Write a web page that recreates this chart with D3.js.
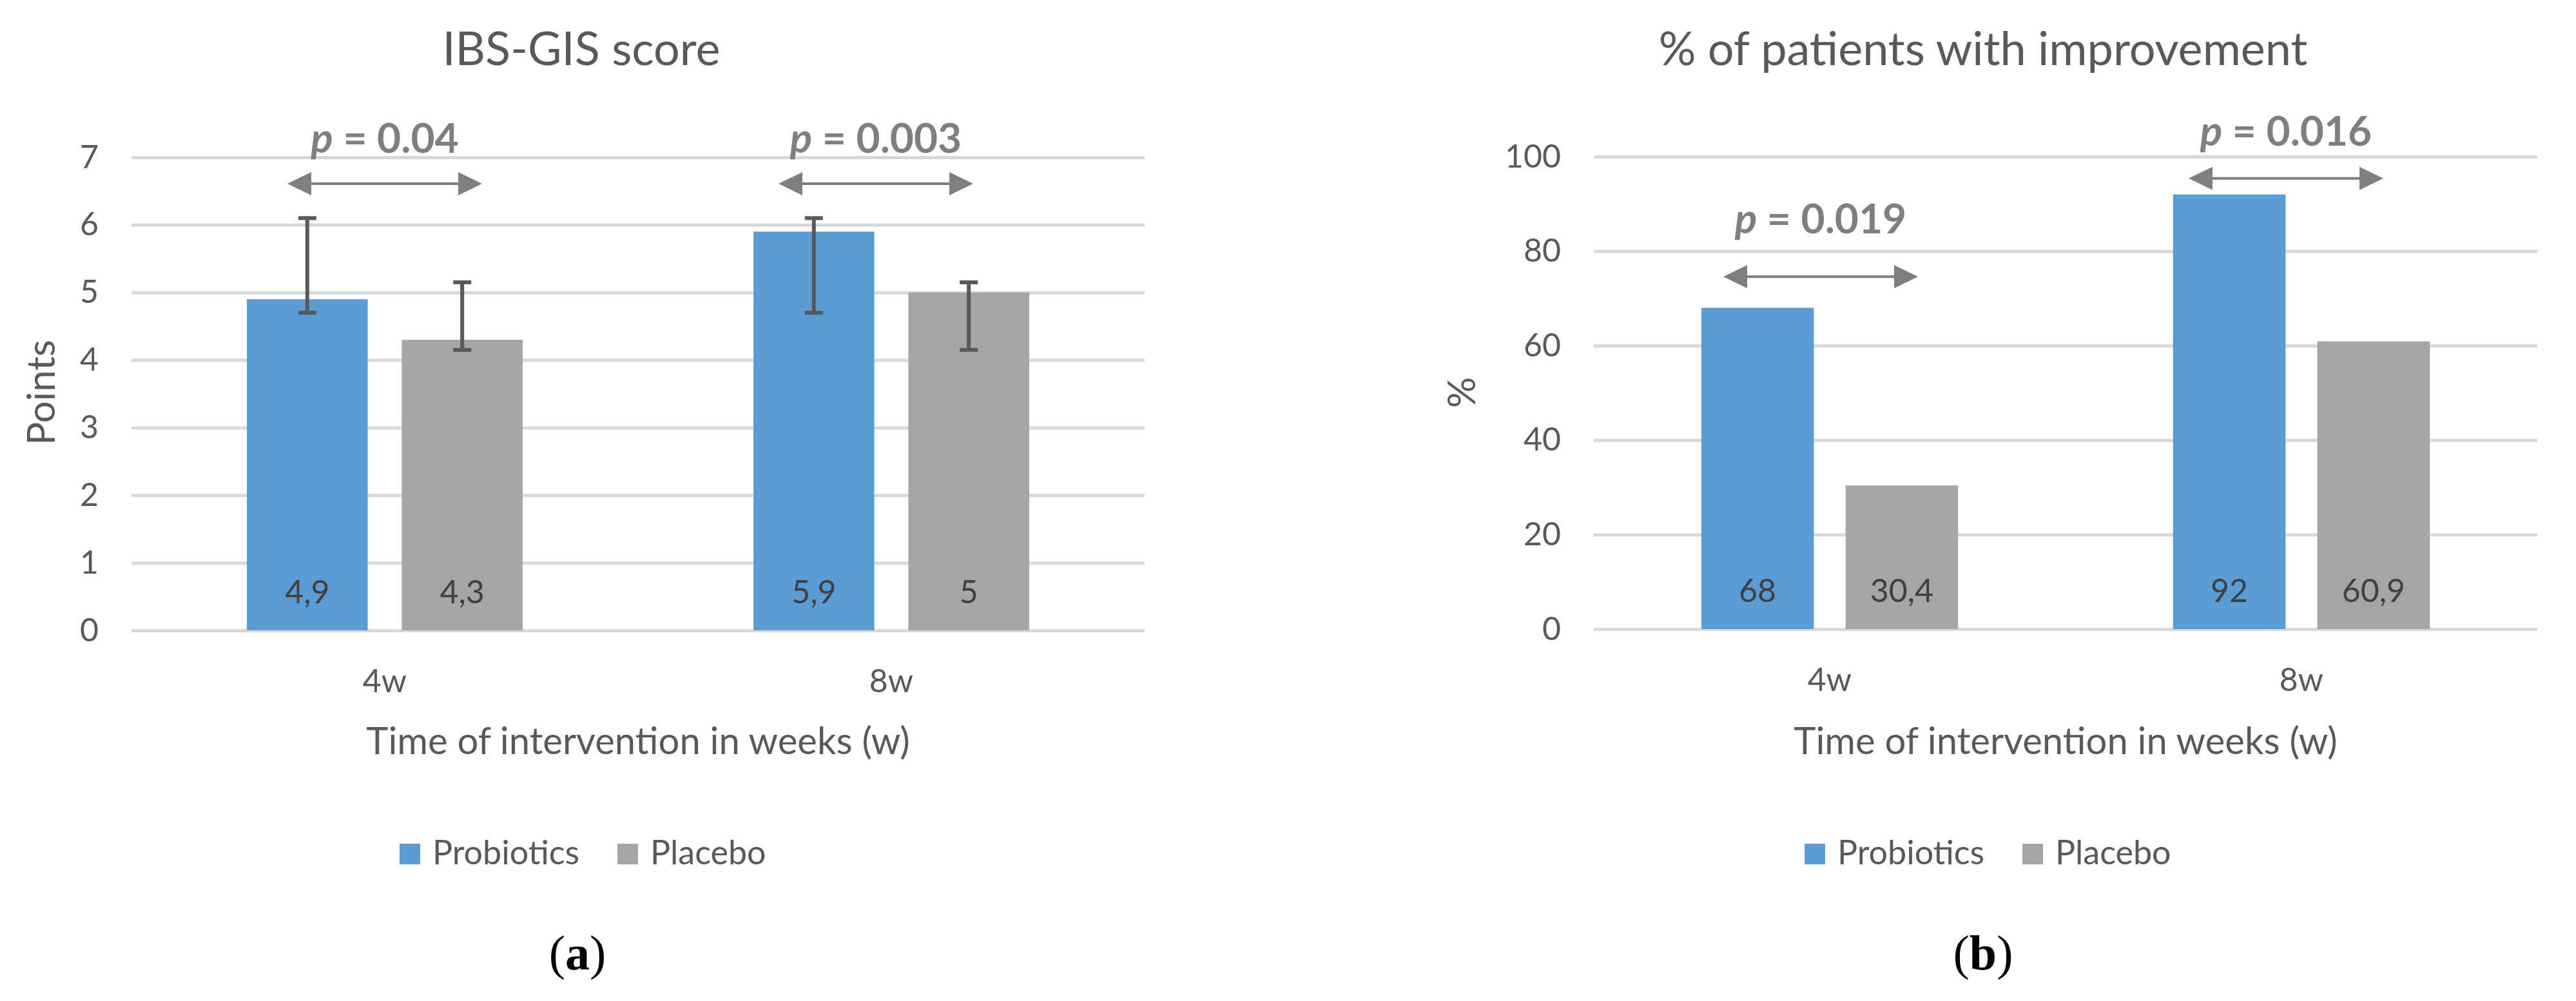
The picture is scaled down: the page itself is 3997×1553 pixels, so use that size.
<!DOCTYPE html>
<html>
<head>
<meta charset="utf-8">
<script src="https://d3js.org/d3.v7.min.js"></script>
<style>
  body { margin: 0; background: #fff; }
  text { font-family: Lato, "Open Sans", sans-serif; }
</style>
</head>
<body>
<script>
// shared
var categories = ["4w", "8w"];
var series = ["Probiotics", "Placebo"];
var seriesColors = ["#5b9bd5", "#a5a5a5"];

// (a) IBS-GIS score
var scoreTicks = [0, 1, 2, 3, 4, 5, 6, 7];
var scoreProbiotics = [4.9, 5.9];
var scorePlacebo = [4.3, 5.0];
var scoreErrProbiotics = [[4.7, 6.1], [4.7, 6.1]];
var scoreErrPlacebo = [[4.15, 5.15], [4.15, 5.15]];
var scorePValues = ["0.04", "0.003"];

// (b) % of patients with improvement
var improveTicks = [0, 20, 40, 60, 80, 100];
var improveProbiotics = [68, 92];
var improvePlacebo = [30.4, 60.9];
var improvePValues = ["0.019", "0.016"];

var W = 3997, H = 1553;
var grey = "#595959";

var svg = d3.select("body")
            .append("svg")
            .attr("width", W)
            .attr("height", H)
            .style("background", "#fff");

function comma(v) { return String(v).replace(".", ","); }

function drawPanel(cfg) {
  var g = svg.append("g");

  var x = d3.scaleBand()
            .domain(categories)
            .range([cfg.left, cfg.right]);

  var xs = d3.scaleBand()
             .domain(series)
             .range([0, x.bandwidth()])
             .paddingInner(0.22)
             .paddingOuter(0.745);

  var y = d3.scaleLinear()
            .domain([0, cfg.yMax])
            .range([cfg.bottom, cfg.top]);

  // title
  g.append("text")
    .attr("x", cfg.titleX)
    .attr("y", 101)
    .attr("text-anchor", "middle")
    .attr("fill", grey)
    .style("font-size", "72px")
    .text(cfg.title);

  // gridlines
  var grid = g.append("g")
    .attr("transform", "translate(" + cfg.left + ",0)")
    .call(d3.axisLeft(y).tickValues(cfg.ticks).tickSize(-(cfg.right - cfg.left)).tickFormat(""));
  grid.select(".domain").remove();
  grid.selectAll("line").attr("stroke", "#d9d9d9").attr("stroke-width", 5);

  // y tick labels
  var ya = g.append("g")
    .attr("transform", "translate(" + cfg.left + ",0)")
    .call(d3.axisLeft(y).tickValues(cfg.ticks).tickFormat(d3.format("d")).tickSize(0).tickPadding(51));
  ya.select(".domain").remove();
  ya.selectAll("text")
    .attr("fill", grey)
    .style("font-size", "50px")
    .style("font-family", "Lato, sans-serif");

  // y axis title
  g.append("text")
    .attr("transform", "translate(" + cfg.yLabelX + ",609) rotate(-90)")
    .attr("text-anchor", "middle")
    .attr("dy", "0.35em")
    .attr("fill", grey)
    .style("font-size", "60px")
    .text(cfg.yLabel);

  // bars
  var rows = [];
  categories.forEach(function(c, i) {
    series.forEach(function(s, j) {
      rows.push({cat: c, ser: s, idx: j, value: cfg.values[j][i],
                 err: cfg.errors ? cfg.errors[j][i] : null});
    });
  });

  g.selectAll(".bar")
    .data(rows)
    .enter()
    .append("rect")
    .attr("x", function(d) { return x(d.cat) + xs(d.ser); })
    .attr("y", function(d) { return y(d.value); })
    .attr("width", xs.bandwidth())
    .attr("height", function(d) { return y(0) - y(d.value); })
    .attr("fill", function(d) { return seriesColors[d.idx]; });

  // value labels inside bars
  g.selectAll(".vlab")
    .data(rows)
    .enter()
    .append("text")
    .attr("x", function(d) { return x(d.cat) + xs(d.ser) + xs.bandwidth() / 2; })
    .attr("y", y(0) - 42)
    .attr("text-anchor", "middle")
    .attr("fill", "#404040")
    .style("font-size", "50px")
    .text(function(d) { return comma(d.value); });

  // error bars
  if (cfg.errors) {
    var eb = g.selectAll(".err")
      .data(rows)
      .enter()
      .append("g")
      .attr("stroke", grey)
      .attr("stroke-width", 6);
    eb.append("line")
      .attr("x1", function(d) { return x(d.cat) + xs(d.ser) + xs.bandwidth() / 2; })
      .attr("x2", function(d) { return x(d.cat) + xs(d.ser) + xs.bandwidth() / 2; })
      .attr("y1", function(d) { return y(d.err[0]); })
      .attr("y2", function(d) { return y(d.err[1]); });
    [0, 1].forEach(function(k) {
      eb.append("line")
        .attr("x1", function(d) { return x(d.cat) + xs(d.ser) + xs.bandwidth() / 2 - 14; })
        .attr("x2", function(d) { return x(d.cat) + xs(d.ser) + xs.bandwidth() / 2 + 14; })
        .attr("y1", function(d) { return y(d.err[k]); })
        .attr("y2", function(d) { return y(d.err[k]); });
    });
  }

  // category labels
  var xa = g.append("g")
    .attr("transform", "translate(0," + cfg.bottom + ")")
    .call(d3.axisBottom(x).tickSize(0).tickPadding(60));
  xa.select(".domain").remove();
  xa.selectAll("text")
    .attr("fill", grey)
    .style("font-size", "50px")
    .style("font-family", "Lato, sans-serif");

  // x axis title
  g.append("text")
    .attr("x", (cfg.left + cfg.right) / 2)
    .attr("y", 1170)
    .attr("text-anchor", "middle")
    .attr("fill", grey)
    .style("font-size", "58px")
    .text("Time of intervention in weeks (w)");

  // p-value arrows
  categories.forEach(function(c, i) {
    var cx = x(c) + x.bandwidth() / 2 + cfg.arrowShift[i];
    var ay = y(cfg.arrowAt[i]);
    var x1 = cx - 151, x2 = cx + 151;
    g.append("line")
      .attr("x1", x1 + 30).attr("x2", x2 - 30)
      .attr("y1", ay).attr("y2", ay)
      .attr("stroke", "#7f7f7f")
      .attr("stroke-width", 4);
    g.append("path")
      .attr("d", "M" + x1 + "," + ay + "L" + (x1 + 37) + "," + (ay - 18) + "L" + (x1 + 37) + "," + (ay + 18) + "Z")
      .attr("fill", "#7f7f7f");
    g.append("path")
      .attr("d", "M" + x2 + "," + ay + "L" + (x2 - 37) + "," + (ay - 18) + "L" + (x2 - 37) + "," + (ay + 18) + "Z")
      .attr("fill", "#7f7f7f");
    var t = g.append("text")
      .attr("x", cx)
      .attr("y", y(cfg.textAt[i]))
      .attr("text-anchor", "middle")
      .attr("fill", "#7f7f7f")
      .style("font-size", "64px")
      .style("font-weight", "bold");
    t.append("tspan").style("font-style", "italic").text("p");
    t.append("tspan").text(" = " + cfg.pValues[i]);
  });

  // legend
  var lg = g.append("g").attr("transform", "translate(" + cfg.legendX + ",1309)");
  series.forEach(function(s, j) {
    lg.append("rect")
      .attr("x", j * 338).attr("y", 0)
      .attr("width", 32).attr("height", 32)
      .attr("fill", seriesColors[j]);
    lg.append("text")
      .attr("x", j * 338 + 51).attr("y", 32)
      .attr("fill", grey)
      .style("font-size", "52px")
      .text(s);
  });

  // panel tag
  var tag = g.append("text")
    .attr("x", cfg.tagX)
    .attr("y", 1504)
    .attr("text-anchor", "middle")
    .attr("fill", "#000")
    .style("font-family", "'Liberation Serif', 'DejaVu Serif', serif")
    .style("font-size", "76px");
  tag.append("tspan").text("(");
  tag.append("tspan").style("font-weight", "bold").text(cfg.tag);
  tag.append("tspan").text(")");
}

drawPanel({
  left: 204, right: 1776, top: 244, bottom: 978, yMax: 7,
  ticks: scoreTicks,
  title: "IBS-GIS score", titleX: 902,
  yLabel: "Points", yLabelX: 64,
  values: [scoreProbiotics, scorePlacebo],
  errors: [scoreErrProbiotics, scoreErrPlacebo],
  pValues: scorePValues,
  arrowAt: [6.61, 6.61], textAt: [7.07, 7.07], arrowShift: [0, -24],
  legendX: 620, tag: "a", tagX: 896
});

drawPanel({
  left: 2473, right: 3937, top: 243, bottom: 976, yMax: 100,
  ticks: improveTicks,
  title: "% of patients with improvement", titleX: 3077,
  yLabel: "%", yLabelX: 2268,
  values: [improveProbiotics, improvePlacebo],
  errors: null,
  pValues: improvePValues,
  arrowAt: [74.6, 95.4], textAt: [83.8, 102.3], arrowShift: [-14, -24],
  legendX: 2800, tag: "b", tagX: 3077
});
</script>
</body>
</html>
